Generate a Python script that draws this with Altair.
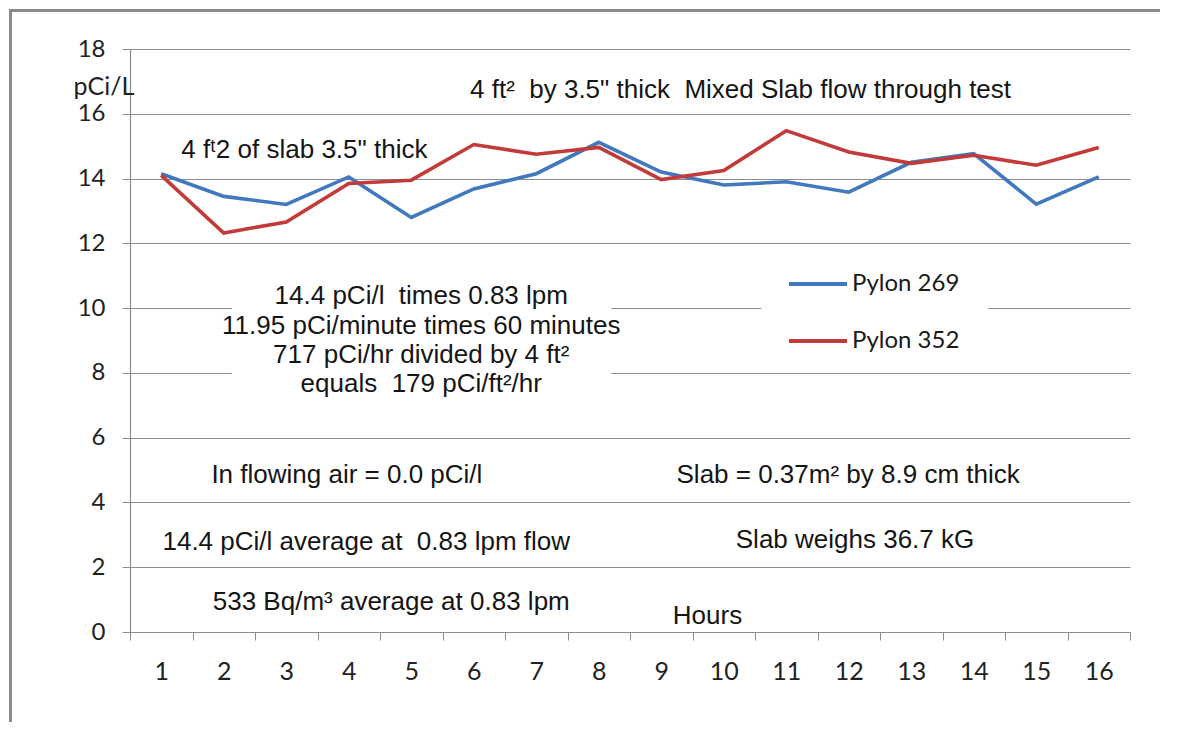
import altair as alt
import pandas as pd

# ---- data ----
hours = list(range(1, 17))
pylon_269 = [14.15, 13.45, 13.20, 14.05, 12.80, 13.68, 14.15, 15.12,
             14.20, 13.80, 13.90, 13.58, 14.50, 14.77, 13.21, 14.05]
pylon_352 = [14.10, 12.32, 12.66, 13.85, 13.95, 15.05, 14.75, 14.96,
             13.97, 14.25, 15.48, 14.82, 14.47, 14.72, 14.41, 14.96]
series_names = ["Pylon 269", "Pylon 352"]
series_colors = ["#4178BE", "#C23B3A"]
y_ticks = [0, 2, 4, 6, 8, 10, 12, 14, 16, 18]

NB = "\u00a0"  # keeps the double spaces of the original
# annotation texts (position in data units: hours, pCi/L)
left_notes = ["4 ft\u00b2 " + NB + "by 3.5\" thick " + NB + "Mixed Slab flow through test",
              "4 f\u1d572 of slab 3.5\" thick"]
left_x = [5.94, 1.32]
left_y = [16.73, 14.88]

center_notes = ["14.4 pCi/l " + NB + "times 0.83 lpm",
                "11.95 pCi/minute times 60 minutes",
                "717 pCi/hr divided by 4 ft\u00b2",
                "equals " + NB + "179 pCi/ft\u00b2/hr",
                "In flowing air = 0.0 pCi/l",
                "14.4 pCi/l average at " + NB + "0.83 lpm flow",
                "533 Bq/m\u00b3 average at 0.83 lpm",
                "Slab = 0.37m\u00b2 by 8.9 cm thick",
                "Slab weighs 36.7 kG"]
center_x = [5.16, 5.16, 5.16, 5.16, 3.97, 4.28, 4.68, 11.99, 12.10]
center_y = [10.37, 9.44, 8.55, 7.65, 4.85, 2.79, 0.93, 4.85, 2.84]

# white boxes behind the calculation block and behind the legend
box_x = [2.13, 10.60]
box_x2 = [8.20, 14.23]
box_y = [7.16, 8.60]
box_y2 = [10.86, 11.50]

# ---- tables ----
rows = []
for name, vals in zip(series_names, [pylon_269, pylon_352]):
    for h, v in zip(hours, vals):
        rows.append({"hour": h, "value": v, "series": name})
df = pd.DataFrame(rows)

df_left = pd.DataFrame({"x": left_x, "y": left_y, "text": left_notes})
df_center = pd.DataFrame({"x": center_x, "y": center_y, "text": center_notes})
df_box = pd.DataFrame({"x": box_x, "x2": box_x2, "y": box_y, "y2": box_y2})

GRID = "#8c8c8c"
TXT = "#151515"
yscale = alt.Scale(domain=[0, 18], nice=False)
qx = alt.Scale(domain=[0.5, 16.5], nice=False, zero=False)

lines = alt.Chart(df).mark_line(strokeWidth=3.6).encode(
    x=alt.X("hour:O", bandPosition=0.5,
            scale=alt.Scale(type="band", paddingInner=0, paddingOuter=0),
            axis=alt.Axis(title="Hours", titleX=577, titleY=-17,
                          titleAlign="center", titleBaseline="middle",
                          titleFont="Liberation Sans", titleFontSize=26,
                          titleFontWeight="normal", titleColor=TXT,
                          labelAngle=0, labelFont="Lato", labelFontSize=25,
                          labelColor="#222", labelPadding=19,
                          tickBand="extent", tickSize=8, tickColor=GRID,
                          domainColor=GRID, domainWidth=1.2, grid=False)),
    y=alt.Y("value:Q", scale=yscale,
            axis=alt.Axis(values=y_ticks, title="pCi/L", titleAngle=0,
                          titleX=-57, titleY=37, titleAlign="left",
                          titleBaseline="middle", titleFont="Lato",
                          titleFontSize=25, titleFontWeight="normal",
                          titleColor="#222",
                          labelFont="Lato", labelFontSize=24, labelColor="#222",
                          labelPadding=17, tickSize=8, tickColor=GRID,
                          domainColor=GRID, domainWidth=1.2,
                          grid=True, gridColor=GRID, gridWidth=1.2)),
    color=alt.Color("series:N",
                    scale=alt.Scale(domain=series_names, range=series_colors),
                    legend=alt.Legend(title=None, orient="none",
                                      legendX=657, legendY=204,
                                      symbolType="stroke", symbolSize=3364,
                                      symbolStrokeWidth=4, labelFont="Lato",
                                      labelFontSize=24, labelColor="#1a1a1a",
                                      labelOffset=3, padding=0,
                                      rowPadding=14)),
    order=alt.Order("series:N"),
)

box = alt.Chart(df_box).mark_rect(color="white").encode(
    x=alt.X("x:Q", scale=qx, axis=None),
    x2="x2", y=alt.Y("y:Q", scale=yscale), y2="y2")

txt_left = alt.Chart(df_left).mark_text(
    align="left", baseline="middle", font="Liberation Sans", fontSize=26,
    color=TXT).encode(
    x=alt.X("x:Q", scale=qx, axis=None),
    y=alt.Y("y:Q", scale=yscale), text="text:N")

txt_center = alt.Chart(df_center).mark_text(
    align="center", baseline="middle", font="Liberation Sans", fontSize=26,
    color=TXT).encode(
    x=alt.X("x:Q", scale=qx, axis=None),
    y=alt.Y("y:Q", scale=yscale), text="text:N")

# outer picture frame: left and top edges only
frame_df = pd.DataFrame({"k": [0]})
frame_left = alt.Chart(frame_df).mark_rect(color="#8a8a8a").encode(
    x=alt.value(-121), x2=alt.value(-118), y=alt.value(-40), y2=alt.value(673))
frame_top = alt.Chart(frame_df).mark_rect(color="#8a8a8a").encode(
    x=alt.value(-121), x2=alt.value(1030), y=alt.value(-40), y2=alt.value(-37))

chart = alt.layer(box, lines, txt_left, txt_center,
                  frame_left, frame_top).resolve_scale(
    x="independent").properties(
    width=1000, height=583,
    padding={"left": 122, "top": 41, "right": 42, "bottom": 91},
    autosize=alt.AutoSizeParams(type="none"),
    background="white",
).configure_view(stroke=None)

chart.save("out.html", embed_options={"renderer": "svg", "actions": False})
